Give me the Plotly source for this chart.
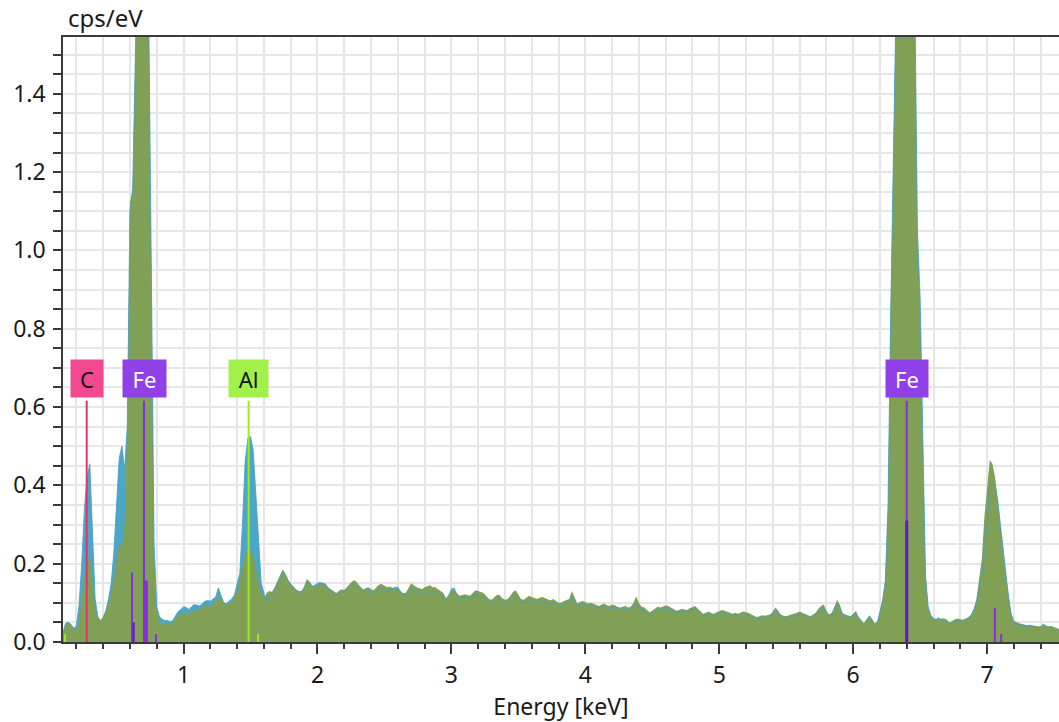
import plotly.graph_objects as go

# Channel grid (keV): 0.10 .. 7.54, step 0.02
E_START = 0.10
E_STEP = 0.02

# Front spectrum (olive green), cps/eV
green = [
    0.025, 0.048, 0.050, 0.045, 0.035, 0.030, 0.055, 0.110, 0.170, 0.215,
    0.215, 0.150, 0.090, 0.060, 0.055, 0.065, 0.080, 0.100, 0.125, 0.165,
    0.210, 0.250, 0.245, 0.300, 0.550, 1.120, 1.160, 1.500, 2.000, 2.400,
    2.500, 2.300, 1.600, 0.850, 0.220, 0.085, 0.055, 0.045, 0.045, 0.048,
    0.048, 0.050, 0.058, 0.070, 0.074, 0.068, 0.078, 0.072, 0.076, 0.083,
    0.080, 0.083, 0.090, 0.096, 0.092, 0.090, 0.100, 0.102, 0.118, 0.112,
    0.098, 0.095, 0.098, 0.102, 0.115, 0.130, 0.160, 0.190, 0.225, 0.240,
    0.235, 0.220, 0.190, 0.160, 0.125, 0.110, 0.125, 0.130, 0.128, 0.140,
    0.155, 0.170, 0.185, 0.175, 0.160, 0.150, 0.142, 0.135, 0.130, 0.130,
    0.140, 0.160, 0.155, 0.145, 0.140, 0.145, 0.148, 0.146, 0.147, 0.140,
    0.135, 0.128, 0.125, 0.130, 0.135, 0.133, 0.140, 0.148, 0.155, 0.158,
    0.150, 0.140, 0.134, 0.137, 0.140, 0.135, 0.132, 0.140, 0.147, 0.148,
    0.145, 0.140, 0.142, 0.138, 0.135, 0.135, 0.130, 0.125, 0.126, 0.140,
    0.150, 0.145, 0.140, 0.138, 0.135, 0.140, 0.142, 0.145, 0.140, 0.140,
    0.135, 0.130, 0.125, 0.112, 0.120, 0.130, 0.133, 0.125, 0.118, 0.120,
    0.122, 0.120, 0.118, 0.125, 0.132, 0.130, 0.128, 0.125, 0.118, 0.110,
    0.108, 0.115, 0.120, 0.120, 0.112, 0.108, 0.110, 0.118, 0.128, 0.132,
    0.120, 0.110, 0.108, 0.112, 0.118, 0.115, 0.112, 0.110, 0.113, 0.115,
    0.112, 0.108, 0.106, 0.110, 0.105, 0.100, 0.100, 0.105, 0.107, 0.110,
    0.130, 0.115, 0.098, 0.102, 0.105, 0.102, 0.098, 0.100, 0.098, 0.095,
    0.092, 0.095, 0.098, 0.094, 0.092, 0.096, 0.094, 0.090, 0.088, 0.090,
    0.092, 0.088, 0.090, 0.100, 0.117, 0.100, 0.090, 0.088, 0.082, 0.076,
    0.080, 0.086, 0.090, 0.088, 0.090, 0.093, 0.092, 0.088, 0.085, 0.080,
    0.082, 0.085, 0.083, 0.082, 0.086, 0.090, 0.092, 0.085, 0.078, 0.072,
    0.075, 0.078, 0.074, 0.072, 0.076, 0.080, 0.082, 0.080, 0.078, 0.074,
    0.072, 0.075, 0.072, 0.075, 0.078, 0.076, 0.074, 0.070, 0.066, 0.064,
    0.066, 0.068, 0.067, 0.068, 0.070, 0.078, 0.088, 0.080, 0.070, 0.067,
    0.066, 0.068, 0.070, 0.072, 0.075, 0.078, 0.075, 0.070, 0.068, 0.066,
    0.070, 0.075, 0.085, 0.092, 0.096, 0.080, 0.070, 0.075, 0.090, 0.108,
    0.095, 0.075, 0.070, 0.068, 0.066, 0.072, 0.079, 0.065, 0.055, 0.048,
    0.058, 0.068, 0.060, 0.048, 0.052, 0.080, 0.110, 0.160, 0.350, 0.850,
    1.300, 2.000, 2.600, 3.000, 3.200, 3.200, 2.900, 2.300, 1.550, 1.000,
    0.850, 0.500, 0.180, 0.090, 0.065, 0.058, 0.057, 0.058, 0.060, 0.060,
    0.057, 0.050, 0.055, 0.058, 0.060, 0.058, 0.057, 0.060, 0.063, 0.070,
    0.085, 0.110, 0.155, 0.210, 0.320, 0.400, 0.465, 0.455, 0.420, 0.360,
    0.290, 0.220, 0.170, 0.120, 0.075, 0.054, 0.050, 0.048, 0.046, 0.044,
    0.043, 0.044, 0.042, 0.040, 0.040, 0.040, 0.045, 0.042, 0.040, 0.041,
    0.038, 0.035, 0.033,
]

# Back spectrum (blue), cps/eV
blue = [
    0.025, 0.048, 0.050, 0.045, 0.035, 0.040, 0.095, 0.200, 0.340, 0.420,
    0.455, 0.300, 0.110, 0.065, 0.055, 0.062, 0.080, 0.110, 0.150, 0.230,
    0.340, 0.470, 0.500, 0.440, 0.550, 1.100, 1.150, 1.550, 2.000, 2.400,
    2.500, 2.300, 1.650, 0.900, 0.250, 0.090, 0.065, 0.058, 0.055, 0.055,
    0.052, 0.055, 0.065, 0.078, 0.083, 0.090, 0.088, 0.083, 0.090, 0.096,
    0.094, 0.092, 0.098, 0.104, 0.106, 0.104, 0.110, 0.115, 0.138, 0.120,
    0.100, 0.098, 0.103, 0.110, 0.120, 0.150, 0.175, 0.300, 0.460, 0.520,
    0.525, 0.490, 0.380, 0.250, 0.150, 0.125, 0.100, 0.115, 0.125, 0.130,
    0.150, 0.165, 0.180, 0.172, 0.157, 0.146, 0.140, 0.130, 0.125, 0.128,
    0.138, 0.155, 0.150, 0.142, 0.145, 0.150, 0.152, 0.150, 0.148, 0.135,
    0.130, 0.120, 0.118, 0.125, 0.130, 0.128, 0.132, 0.140, 0.148, 0.150,
    0.142, 0.132, 0.128, 0.130, 0.132, 0.125, 0.122, 0.128, 0.135, 0.138,
    0.135, 0.130, 0.132, 0.135, 0.140, 0.140, 0.128, 0.118, 0.115, 0.125,
    0.135, 0.130, 0.125, 0.122, 0.120, 0.125, 0.127, 0.130, 0.125, 0.122,
    0.120, 0.118, 0.112, 0.108, 0.118, 0.135, 0.138, 0.120, 0.110, 0.112,
    0.115, 0.112, 0.108, 0.112, 0.120, 0.118, 0.115, 0.112, 0.105, 0.100,
    0.098, 0.104, 0.110, 0.108, 0.100, 0.098, 0.100, 0.106, 0.115, 0.118,
    0.108, 0.100, 0.098, 0.100, 0.106, 0.104, 0.100, 0.098, 0.102, 0.104,
    0.100, 0.097, 0.095, 0.098, 0.094, 0.090, 0.090, 0.095, 0.097, 0.100,
    0.118, 0.105, 0.090, 0.094, 0.097, 0.096, 0.092, 0.094, 0.092, 0.088,
    0.086, 0.088, 0.090, 0.087, 0.085, 0.089, 0.087, 0.084, 0.082, 0.084,
    0.086, 0.082, 0.083, 0.090, 0.100, 0.090, 0.083, 0.080, 0.075, 0.070,
    0.074, 0.080, 0.083, 0.082, 0.083, 0.086, 0.085, 0.082, 0.078, 0.074,
    0.076, 0.079, 0.077, 0.076, 0.080, 0.083, 0.085, 0.079, 0.072, 0.067,
    0.069, 0.072, 0.068, 0.066, 0.070, 0.074, 0.076, 0.074, 0.072, 0.068,
    0.066, 0.069, 0.066, 0.069, 0.072, 0.070, 0.068, 0.064, 0.060, 0.058,
    0.060, 0.062, 0.061, 0.062, 0.064, 0.070, 0.078, 0.072, 0.064, 0.061,
    0.060, 0.062, 0.064, 0.066, 0.069, 0.072, 0.069, 0.064, 0.062, 0.060,
    0.064, 0.069, 0.078, 0.085, 0.088, 0.074, 0.064, 0.069, 0.082, 0.098,
    0.088, 0.069, 0.064, 0.062, 0.060, 0.066, 0.073, 0.060, 0.050, 0.044,
    0.053, 0.063, 0.055, 0.044, 0.048, 0.076, 0.105, 0.155, 0.340, 0.830,
    1.280, 2.000, 2.600, 3.000, 3.200, 3.200, 2.900, 2.300, 1.600, 1.050,
    0.880, 0.520, 0.170, 0.090, 0.068, 0.060, 0.058, 0.062, 0.055, 0.055,
    0.052, 0.046, 0.050, 0.054, 0.056, 0.054, 0.053, 0.056, 0.060, 0.066,
    0.080, 0.095, 0.120, 0.170, 0.220, 0.300, 0.400, 0.405, 0.400, 0.360,
    0.300, 0.230, 0.170, 0.115, 0.070, 0.050, 0.045, 0.044, 0.042, 0.040,
    0.039, 0.040, 0.038, 0.036, 0.037, 0.038, 0.046, 0.040, 0.037, 0.036,
    0.030, 0.024, 0.021,
]

energy = [round(E_START + E_STEP * i, 2) for i in range(len(green))]

# Element marker lines (keV, height cps/eV)
main_lines_e = [0.277, 0.705, 1.486, 6.400]
main_lines_h = [0.616, 0.616, 0.616, 0.616]
main_lines_c = ["#E8306E", "#8A2BE2", "#9CEB1A", "#8A2BE2"]

minor_lines_e = [0.115, 0.615, 0.628, 0.722, 0.794, 1.557, 6.400, 7.058, 7.105]
minor_lines_h = [0.020, 0.177, 0.050, 0.157, 0.020, 0.020, 0.310, 0.087, 0.020]
minor_lines_c = ["#9CEB1A", "#8A2BE2", "#6A10D0", "#8A2BE2", "#8A2BE2",
                 "#9CEB1A", "#6A10D0", "#8A2BE2", "#8A2BE2"]
minor_lines_w = [2, 2, 2, 3, 2, 2, 3, 2, 2]

# Element label boxes
label_text = ["C", "Fe", "Al", "Fe"]
label_e = [0.277, 0.705, 1.486, 6.400]
label_bg = ["#F2488E", "#9040E8", "#A2F04A", "#9040E8"]
label_fg = ["#111111", "#FFFFFF", "#111111", "#FFFFFF"]
label_w = [32, 43, 39, 42]
LABEL_Y = 0.673

FONT = "Noto Sans"
AXIS_COLOR = "#3a3a3a"
GRID_COLOR = "#e6e6e6"

fig = go.Figure()

fig.add_trace(go.Scatter(
    x=energy, y=blue, mode="lines", fill="tozeroy",
    line=dict(width=0, color="#4CA6C8"), fillcolor="#4CA6C8",
    hoverinfo="skip", showlegend=False))
fig.add_trace(go.Scatter(
    x=energy, y=green, mode="lines", fill="tozeroy",
    line=dict(width=0, color="#80A056"), fillcolor="#80A056",
    hoverinfo="skip", showlegend=False))
fig.add_trace(go.Scatter(
    x=energy, y=blue, mode="lines",
    line=dict(width=1, color="rgba(70,160,196,0.85)"),
    hoverinfo="skip", showlegend=False))

for e, h, c in zip(main_lines_e, main_lines_h, main_lines_c):
    fig.add_trace(go.Scatter(x=[e, e], y=[0, h], mode="lines",
                             line=dict(width=2, color=c),
                             hoverinfo="skip", showlegend=False))
for e, h, c, w in zip(minor_lines_e, minor_lines_h, minor_lines_c, minor_lines_w):
    fig.add_trace(go.Scatter(x=[e, e], y=[0, h], mode="lines",
                             line=dict(width=w, color=c),
                             hoverinfo="skip", showlegend=False))

for t, e, bg, fg, w in zip(label_text, label_e, label_bg, label_fg, label_w):
    fig.add_annotation(x=e, y=LABEL_Y, xref="x", yref="y", text=t,
                       showarrow=False, bgcolor=bg, width=w, height=37,
                       borderpad=0, font=dict(family=FONT, size=22, color=fg))

fig.add_annotation(x=0, y=1, xref="paper", yref="paper", text="cps/eV",
                   showarrow=False, xanchor="left", yanchor="bottom",
                   xshift=3, yshift=1,
                   font=dict(family=FONT, size=24, color="#1a1a1a"))

fig.update_layout(
    width=1059, height=722,
    margin=dict(l=63, r=0, t=37, b=80),
    paper_bgcolor="white", plot_bgcolor="white",
    font=dict(family=FONT, size=23, color="#1a1a1a"),
    showlegend=False,
    xaxis=dict(
        range=[0.1, 7.537], tick0=0, dtick=1, tickformat="d",
        showline=True, linecolor=AXIS_COLOR, linewidth=1.5, mirror=True,
        ticks="outside", ticklen=10, tickwidth=1.5, tickcolor=AXIS_COLOR,
        showgrid=True, gridcolor=GRID_COLOR, gridwidth=1.5, zeroline=False,
        minor=dict(tick0=0, dtick=0.2, ticks="outside", ticklen=5,
                   tickwidth=1.5, tickcolor=AXIS_COLOR, showgrid=True,
                   gridcolor=GRID_COLOR, gridwidth=1.5),
        ticklabelstandoff=2,
        title=dict(text="Energy [keV]", standoff=2,
                   font=dict(family=FONT, size=23)),
        tickfont=dict(family=FONT, size=23),
        automargin=False,
    ),
    yaxis=dict(
        range=[0, 1.545], tick0=0, dtick=0.2, tickformat=".1f",
        showline=True, linecolor=AXIS_COLOR, linewidth=1.5,
        ticks="outside", ticklen=8, tickwidth=1.5, tickcolor=AXIS_COLOR,
        showgrid=True, gridcolor=GRID_COLOR, gridwidth=1.5, zeroline=False,
        minor=dict(tick0=0, dtick=0.05, ticks="outside", ticklen=8,
                   tickwidth=1.5, tickcolor=AXIS_COLOR, showgrid=True,
                   gridcolor=GRID_COLOR, gridwidth=1.5),
        ticklabelstandoff=3,
        tickfont=dict(family=FONT, size=23),
        automargin=False,
    ),
)

# Remove the browser's default page margin so the figure fills the window,
# and hide the interactive mode bar.
fig.write_html(
    "out.html",
    config={"displayModeBar": False},
    post_script="document.body.style.margin='0';"
                "document.body.style.overflow='hidden';",
)
